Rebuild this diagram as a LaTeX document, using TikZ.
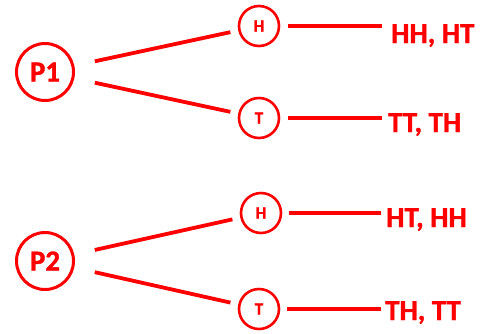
\documentclass[tikz,border=0pt]{standalone}
\usepackage{fontspec}
\setmainfont{Carlito}[BoldFeatures={FakeBold=1.2}]
\begin{document}
\begin{tikzpicture}[x=1pt,y=-1pt,
  big/.style={circle,draw=red,line width=3pt,minimum size=57pt,inner sep=0pt,text=red,font=\fontsize{29}{32}\selectfont\bfseries},
  small/.style={circle,draw=red,line width=2.6pt,minimum size=40pt,inner sep=0pt,text=red,font=\fontsize{17}{20}\selectfont\bfseries},
  outcome/.style={anchor=base west,inner sep=0pt,text=red,font=\fontsize{29}{32}\selectfont\bfseries},
  branch/.style={draw=red,line width=3.8pt}]
\useasboundingbox (0,0) rectangle (481,333);
\node[big] (P1) at (45,72) {P1};
\node[big] (P2) at (45,261) {P2};
\node[small] (H1) at (259,26) {H};
\node[small] (T1) at (259,118) {T};
\node[small] (H2) at (261,213) {H};
\node[small] (T2) at (259,309) {T};
\node[outcome] (o1) at (391,43) {HH, HT};
\node[outcome] (o2) at (388,132) {TT, TH};
\node[outcome] (o3) at (386,227) {HT, HH};
\node[outcome] (o4) at (385,320) {TH, TT};
\draw[branch,shorten <=21pt,shorten >=8pt] (P1) -- (H1);
\draw[branch,shorten <=21pt,shorten >=8pt] (P1) -- (T1);
\draw[branch,shorten <=21pt,shorten >=8pt] (P2) -- (H2);
\draw[branch,shorten <=21pt,shorten >=8pt] (P2) -- (T2);
\draw[branch,shorten <=8pt,shorten >=9pt] (H1.east) -- (H1.east -| o1.west);
\draw[branch,shorten <=8pt,shorten >=6pt] (T1.east) -- (T1.east -| o2.west);
\draw[branch,shorten <=7pt,shorten >=5pt] (H2.east) -- (H2.east -| o3.west);
\draw[branch,shorten <=7pt,shorten >=4pt] (T2.east) -- (T2.east -| o4.west);
\end{tikzpicture}
\end{document}
